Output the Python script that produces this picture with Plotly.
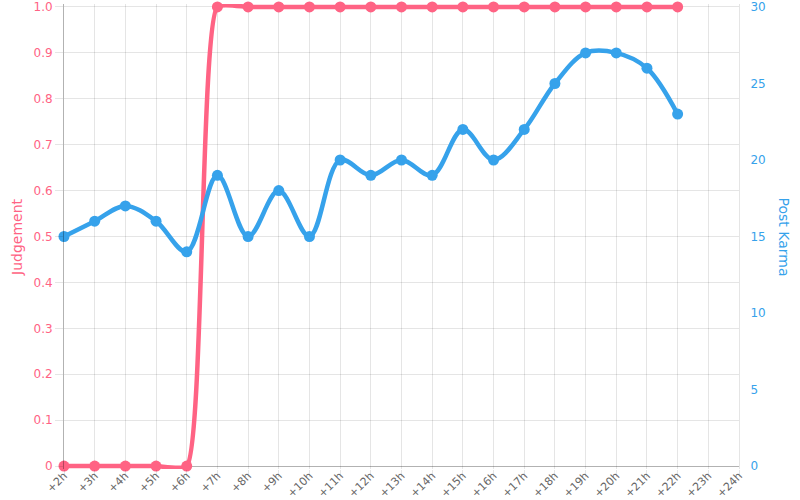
import plotly.graph_objects as go

hours = ["+%dh" % h for h in range(2, 25)]
judgement = [0, 0, 0, 0, 0, 1, 1, 1, 1, 1, 1, 1, 1, 1, 1, 1, 1, 1, 1, 1, 1]
post_karma = [15, 16, 17, 16, 14, 19, 15, 18, 15, 20, 19, 20, 19, 22, 20, 22, 25, 27, 27, 26, 23]

RED = "#ff6384"
BLUE = "#36a2eb"
FONT = "DejaVu Sans"

PAD = 0.0065  # small range padding so thick lines at the edges are not clipped

fig = go.Figure()
fig.add_trace(go.Scatter(
    x=hours[:len(post_karma)], y=post_karma, yaxis="y2", name="Post Karma",
    mode="lines+markers", line=dict(color=BLUE, width=4.5, shape="spline", smoothing=1.0),
    marker=dict(color=BLUE, size=11), cliponaxis=False,
))
fig.add_trace(go.Scatter(
    x=hours[:len(judgement)], y=judgement, name="Judgement",
    mode="lines+markers", line=dict(color=RED, width=4.5, shape="spline", smoothing=0.5),
    marker=dict(color=RED, size=11), cliponaxis=False,
))

grid = "rgba(0,0,0,0.1)"
axis_line = "rgba(0,0,0,0.3)"
fig.update_layout(
    width=800, height=500,
    margin=dict(l=64, r=61, t=4, b=31),
    paper_bgcolor="white", plot_bgcolor="white",
    showlegend=False,
    font=dict(family=FONT, size=12, color="#666"),
    xaxis=dict(
        type="category", categoryorder="array", categoryarray=hours,
        range=[0, 22], tickangle=-45, showgrid=True, gridcolor=grid,
        ticks="outside", ticklen=7, tickcolor=grid, automargin=False,
        ticklabelstandoff=-12,
        showline=False, zeroline=False,
        tickfont=dict(family=FONT, size=11, color="#666"),
    ),
    yaxis=dict(
        range=[-PAD, 1 + PAD], tickvals=[i / 10 for i in range(11)],
        ticktext=["0"] + ["%.1f" % (i / 10) for i in range(1, 11)],
        showgrid=True, gridcolor=grid, ticks="outside", ticklen=8, tickcolor=grid,
        showline=True, linecolor=axis_line, zeroline=True, zerolinecolor=axis_line,
        zerolinewidth=1, automargin=False,
        tickfont=dict(family=FONT, size=12, color=RED),
    ),
    yaxis2=dict(
        range=[-PAD * 30, 30 + PAD * 30], tickvals=[0, 5, 10, 15, 20, 25, 30],
        overlaying="y", side="right",
        showgrid=False, ticks="outside", ticklen=8, tickcolor="rgba(0,0,0,0)",
        showline=True, linecolor=grid, zeroline=False, automargin=False,
        tickfont=dict(family=FONT, size=12, color=BLUE),
    ),
    annotations=[
        dict(text="Judgement", xref="paper", yref="paper", x=-0.0705, y=0.5,
             textangle=-90, showarrow=False, xanchor="center", yanchor="middle",
             font=dict(family=FONT, size=14, color=RED)),
        dict(text="Post Karma", xref="paper", yref="paper", x=1.0667, y=0.5,
             textangle=90, showarrow=False, xanchor="center", yanchor="middle",
             font=dict(family=FONT, size=14, color=BLUE)),
    ],
)

fig.write_html(
    "out.html",
    config={"displayModeBar": False},
    post_script="document.body.style.margin='0';document.body.style.overflow='hidden';",
)
